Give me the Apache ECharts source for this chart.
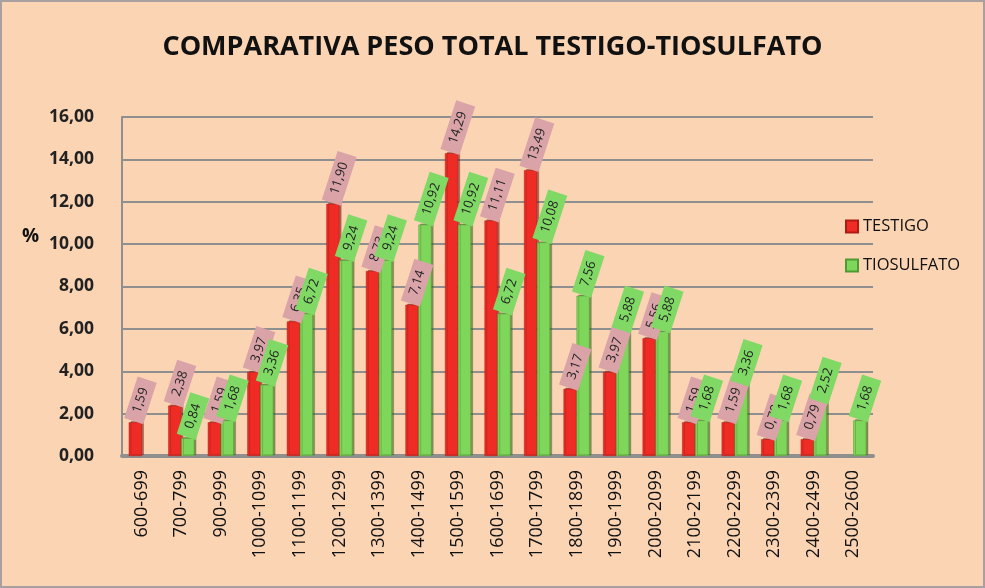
<!DOCTYPE html>
<html>
<head>
<meta charset="utf-8">
<script src="https://cdn.jsdelivr.net/npm/echarts@6/dist/echarts.min.js"></script>
<style>
  html, body { margin: 0; padding: 0; background: #fbd4b4; }
  #chart { width: 985px; height: 588px; box-sizing: border-box; border: 2px solid #a8a0a0; }
</style>
</head>
<body>
<div id="chart"></div>
<script>
// categorías (peso en g)
const categories = ['600-699', '700-799', '900-999', '1000-1099', '1100-1199', '1200-1299', '1300-1399',
  '1400-1499', '1500-1599', '1600-1699', '1700-1799', '1800-1899', '1900-1999', '2000-2099',
  '2100-2199', '2200-2299', '2300-2399', '2400-2499', '2500-2600']
// % por rango
const testigo = [1.59, 2.38, 1.59, 3.97, 6.35, 11.90, 8.73, 7.14, 14.29, 11.11, 13.49, 3.17, 3.97, 5.56,
  1.59, 1.59, 0.79, 0.79, null]
const tiosulfato = [null, 0.84, 1.68, 3.36, 6.72, 9.24, 9.24, 10.92, 10.92, 6.72, 10.08, 7.56, 5.88, 5.88,
  1.68, 3.36, 1.68, 2.52, 1.68]
const yTicks = [0, 2, 4, 6, 8, 10, 12, 14, 16]

const chart = echarts.init(document.getElementById('chart'))

function fmt(v) {
  return Number(v).toFixed(2).replace('.', ',')
}

function labelStyle(bg) {
  return {
    show: true,
    position: 'top',
    rotate: 72,
    align: 'left',
    verticalAlign: 'middle',
    distance: 6,
    offset: [-5, 0],
    fontFamily: 'Open Sans',
    fontSize: 13,
    color: '#222',
    backgroundColor: bg,
    padding: [4, 9, 3, 9],
    formatter: p => fmt(p.value)
  }
}

const option = {
  backgroundColor: '#fbd4b4',
  title: {
    text: 'COMPARATIVA PESO TOTAL TESTIGO-TIOSULFATO',
    left: 'center',
    top: 27,
    textStyle: {
      fontFamily: 'Open Sans',
      fontWeight: 'bold',
      fontSize: 27,
      color: '#111'
    }
  },
  legend: {
    orient: 'vertical',
    left: 838,
    top: 211,
    itemGap: 22,
    itemWidth: 12,
    itemHeight: 12,
    icon: 'rect',
    textStyle: { fontFamily: 'Open Sans', fontSize: 16.5, color: '#111' },
    data: ['TESTIGO', 'TIOSULFATO']
  },
  graphic: [{
    type: 'text',
    left: 20,
    top: 225,
    style: { text: '%', fontFamily: 'Open Sans', fontWeight: 'bold', fontSize: 19, fill: '#111' }
  }],
  grid: { left: 120, right: 110, top: 115, bottom: 130 },
  xAxis: {
    type: 'category',
    data: categories,
    axisLine: { lineStyle: { color: '#8f8f8f', width: 4 } },
    axisTick: { show: false },
    axisLabel: {
      rotate: 90,
      margin: 14,
      fontFamily: 'Open Sans',
      fontSize: 18,
      color: '#111'
    }
  },
  yAxis: {
    type: 'value',
    min: 0,
    max: 16,
    interval: 2,
    axisLine: { show: true, lineStyle: { color: '#8f8f8f', width: 2 } },
    axisTick: { show: false },
    splitLine: { lineStyle: { color: '#8f8f8f', width: 2 } },
    axisLabel: {
      margin: 28,
      fontFamily: 'Open Sans',
      fontWeight: 'bold',
      fontSize: 17.5,
      color: '#222',
      formatter: v => yTicks.indexOf(v) >= 0 ? fmt(v) : ''
    }
  },
  series: [
    {
      name: 'TESTIGO',
      type: 'bar',
      data: testigo,
      barWidth: 13,
      barGap: '0%',
      itemStyle: { color: '#ee2b24', borderColor: '#b01a14', borderWidth: 0.5, shadowColor: 'rgba(120,30,20,0.6)', shadowOffsetX: 2, shadowOffsetY: -1 },
      label: labelStyle('#d9a3a8')
    },
    {
      name: 'TIOSULFATO',
      type: 'bar',
      data: tiosulfato,
      barWidth: 13,
      itemStyle: { color: '#7ed75a', borderColor: '#4f9a33', borderWidth: 0.5, shadowColor: 'rgba(60,100,30,0.6)', shadowOffsetX: 2, shadowOffsetY: -1 },
      label: labelStyle('#7fd964')
    }
  ]
}

chart.setOption(option)
</script>
</body>
</html>
